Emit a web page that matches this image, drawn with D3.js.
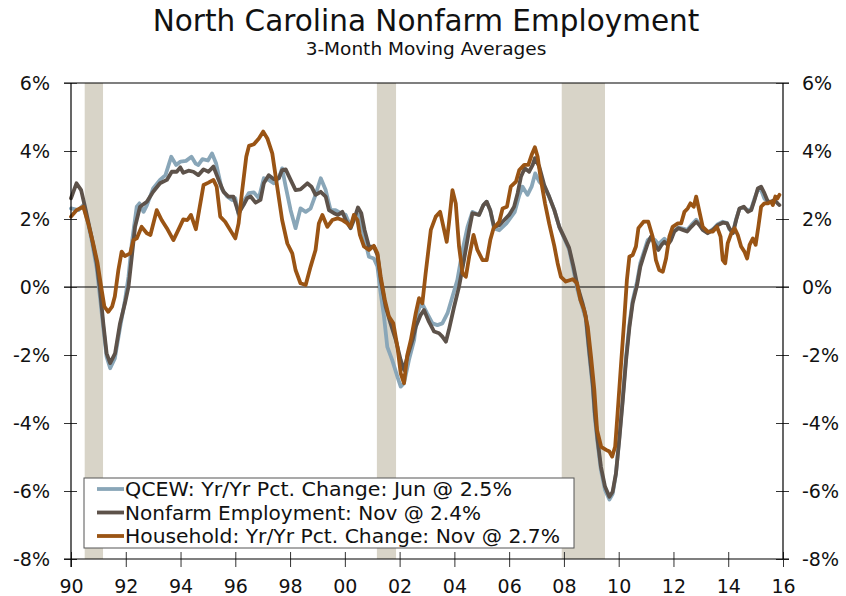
<!DOCTYPE html>
<html>
<head>
<meta charset="utf-8">
<title>North Carolina Nonfarm Employment</title>
<script src="https://cdn.jsdelivr.net/npm/d3@7"></script>
<style>
  body { margin: 0; background: #fff; }
  svg text { font-family: "DejaVu Sans", Verdana, sans-serif; fill: #111; }
</style>
</head>
<body>
<svg id="chart" width="846" height="596"></svg>
<script>
// [decimal year, yr/yr % change]
const qcew = [
  [1990.0, 2.31], [1990.27, 2.26], [1990.45, 2.41], [1990.6, 1.95], [1990.75, 1.4], [1990.94, 0.55],
  [1991.06, -0.3], [1991.18, -1.2], [1991.3, -2.05], [1991.43, -2.39], [1991.6, -2.1], [1991.79, -1.2],
  [1991.97, -0.4], [1992.1, 0.3], [1992.22, 1.28], [1992.4, 2.36], [1992.5, 2.46], [1992.65, 2.21],
  [1992.77, 2.4], [1993.0, 2.9], [1993.25, 3.15], [1993.45, 3.29], [1993.66, 3.83], [1993.84, 3.59],
  [1994.0, 3.69], [1994.2, 3.71], [1994.4, 3.83], [1994.55, 3.63], [1994.65, 3.59], [1994.8, 3.76],
  [1995.0, 3.72], [1995.15, 3.93], [1995.3, 3.63], [1995.5, 2.9], [1995.7, 2.66], [1995.88, 2.56],
  [1996.0, 2.61], [1996.12, 2.12], [1996.3, 2.51], [1996.49, 2.76], [1996.68, 2.78], [1996.86, 2.61],
  [1997.04, 3.2], [1997.22, 3.15], [1997.41, 3.05], [1997.59, 3.2], [1997.71, 3.49], [1997.84, 2.95],
  [1998.02, 2.26], [1998.2, 1.73], [1998.38, 2.31], [1998.57, 2.21], [1998.75, 2.31], [1998.93, 2.71],
  [1999.12, 3.2], [1999.3, 2.85], [1999.48, 2.26], [1999.66, 2.26], [1999.85, 2.17], [2000.03, 2.12],
  [2000.21, 1.77], [2000.35, 2.12], [2000.52, 2.12], [2000.7, 1.48], [2000.88, 0.89], [2001.06, 0.84],
  [2001.19, 0.6], [2001.31, -0.19], [2001.43, -0.87], [2001.55, -1.76], [2001.73, -2.15], [2001.92, -2.64],
  [2002.04, -2.93], [2002.16, -2.83], [2002.34, -2.15], [2002.53, -1.56], [2002.65, -0.77], [2002.8, -0.45],
  [2003.0, -0.77], [2003.2, -1.07], [2003.38, -1.12], [2003.56, -1.07], [2003.75, -0.77], [2003.93, -0.28],
  [2004.11, 0.21], [2004.3, 1.09], [2004.48, 1.77], [2004.66, 2.21], [2004.9, 2.12], [2005.06, 2.41],
  [2005.18, 2.51], [2005.31, 2.26], [2005.45, 1.72], [2005.64, 1.67], [2005.9, 1.87], [2006.2, 2.2],
  [2006.37, 2.7], [2006.49, 2.95], [2006.67, 2.71], [2006.82, 2.95], [2006.95, 3.34], [2007.1, 3.1],
  [2007.28, 2.95], [2007.46, 2.66], [2007.65, 2.26], [2007.83, 1.77], [2008.0, 1.45], [2008.19, 1.1],
  [2008.35, 0.5], [2008.5, -0.1], [2008.68, -0.6], [2008.8, -0.95], [2008.92, -1.95], [2009.05, -2.95],
  [2009.13, -3.85], [2009.23, -4.6], [2009.35, -5.38], [2009.5, -5.97], [2009.66, -6.25], [2009.78, -6.08],
  [2009.9, -5.5], [2010.02, -4.45], [2010.15, -3.25], [2010.27, -2.05], [2010.39, -1.1], [2010.51, -0.4],
  [2010.67, 0.15], [2010.79, 0.7], [2010.94, 1.08], [2011.06, 1.38], [2011.18, 1.45], [2011.33, 1.38],
  [2011.45, 1.25], [2011.57, 1.35], [2011.67, 1.42], [2011.79, 1.3], [2011.91, 1.45], [2012.03, 1.65],
  [2012.18, 1.75], [2012.34, 1.72], [2012.5, 1.68], [2012.65, 1.82], [2012.83, 1.98], [2012.95, 1.85],
  [2013.07, 1.7], [2013.25, 1.6], [2013.44, 1.7], [2013.62, 1.85], [2013.8, 1.92], [2013.96, 1.88],
  [2014.04, 1.7], [2014.17, 1.6], [2014.29, 2.0], [2014.41, 2.3], [2014.57, 2.35], [2014.72, 2.25],
  [2014.84, 2.3], [2014.96, 2.6], [2015.08, 2.85], [2015.2, 2.85], [2015.32, 2.6], [2015.45, 2.5]
];

const nonfarm = [
  [1990.0, 2.61], [1990.2, 3.05], [1990.37, 2.85], [1990.51, 2.36], [1990.75, 1.48], [1990.94, 0.7],
  [1991.06, -0.09], [1991.18, -1.07], [1991.3, -1.95], [1991.43, -2.24], [1991.61, -1.95], [1991.79, -1.07],
  [1991.97, -0.48], [1992.1, 0.01], [1992.22, 0.89], [1992.34, 1.77], [1992.52, 2.36], [1992.77, 2.51],
  [1993.0, 2.8], [1993.25, 3.05], [1993.5, 3.15], [1993.68, 3.39], [1993.86, 3.39], [1993.99, 3.52],
  [1994.1, 3.36], [1994.29, 3.42], [1994.47, 3.39], [1994.65, 3.29], [1994.84, 3.46], [1995.02, 3.39],
  [1995.2, 3.54], [1995.39, 3.15], [1995.57, 2.8], [1995.75, 2.66], [1995.93, 2.66], [1996.12, 2.17],
  [1996.3, 2.41], [1996.43, 2.61], [1996.56, 2.66], [1996.74, 2.48], [1996.92, 2.56], [1997.04, 3.05],
  [1997.22, 3.29], [1997.41, 3.17], [1997.59, 3.2], [1997.71, 3.44], [1997.84, 3.46], [1998.02, 3.15],
  [1998.2, 2.85], [1998.38, 2.87], [1998.63, 3.05], [1998.78, 2.95], [1998.93, 2.71], [1999.12, 2.8],
  [1999.3, 2.66], [1999.42, 2.26], [1999.6, 2.17], [1999.75, 2.12], [1999.91, 2.21], [2000.03, 1.97],
  [2000.21, 1.73], [2000.33, 1.97], [2000.48, 2.34], [2000.6, 2.17], [2000.72, 1.68], [2000.88, 1.19],
  [2001.06, 1.19], [2001.19, 0.94], [2001.31, 0.21], [2001.49, -0.58], [2001.67, -1.07], [2001.86, -1.56],
  [2002.04, -2.15], [2002.16, -2.44], [2002.28, -2.05], [2002.47, -1.56], [2002.59, -1.17], [2002.77, -0.82],
  [2002.89, -0.68], [2003.07, -1.02], [2003.26, -1.31], [2003.44, -1.36], [2003.56, -1.46], [2003.69, -1.61],
  [2003.8, -1.26], [2003.99, -0.58], [2004.17, 0.01], [2004.35, 0.79], [2004.54, 1.68], [2004.66, 2.17],
  [2004.9, 2.12], [2005.06, 2.41], [2005.18, 2.51], [2005.31, 2.26], [2005.45, 1.77], [2005.64, 1.82],
  [2005.82, 1.97], [2006.0, 2.12], [2006.18, 2.36], [2006.31, 2.76], [2006.43, 3.24], [2006.57, 3.49],
  [2006.73, 3.39], [2006.86, 3.59], [2006.94, 3.79], [2007.1, 3.54], [2007.28, 3.0], [2007.46, 2.66],
  [2007.65, 2.26], [2007.83, 1.77], [2008.0, 1.48], [2008.19, 1.15], [2008.35, 0.6], [2008.5, 0.01],
  [2008.68, -0.48], [2008.8, -0.87], [2008.92, -1.85], [2009.05, -2.83], [2009.13, -3.72], [2009.23, -4.5],
  [2009.35, -5.28], [2009.5, -5.87], [2009.66, -6.17], [2009.78, -6.02], [2009.9, -5.48], [2010.02, -4.5],
  [2010.15, -3.32], [2010.27, -2.15], [2010.39, -1.2], [2010.51, -0.48], [2010.67, 0.05], [2010.79, 0.6],
  [2010.94, 0.99], [2011.06, 1.28], [2011.18, 1.48], [2011.33, 1.24], [2011.45, 1.09], [2011.57, 1.24],
  [2011.67, 1.33], [2011.79, 1.24], [2011.91, 1.38], [2012.03, 1.63], [2012.18, 1.73], [2012.34, 1.68],
  [2012.5, 1.63], [2012.65, 1.77], [2012.83, 1.92], [2012.95, 1.82], [2013.07, 1.68], [2013.25, 1.58],
  [2013.44, 1.68], [2013.62, 1.82], [2013.8, 1.89], [2013.96, 1.87], [2014.04, 1.73], [2014.17, 1.58],
  [2014.29, 1.97], [2014.41, 2.31], [2014.57, 2.36], [2014.72, 2.21], [2014.84, 2.26], [2014.96, 2.56],
  [2015.08, 2.9], [2015.2, 2.95], [2015.32, 2.76], [2015.45, 2.51], [2015.57, 2.51], [2015.69, 2.56],
  [2015.8, 2.46], [2015.87, 2.41]
];

const household = [
  [1990.0, 2.07], [1990.2, 2.26], [1990.45, 2.36], [1990.63, 1.87], [1990.81, 1.28], [1990.97, 0.7],
  [1991.12, -0.09], [1991.22, -0.58], [1991.36, -0.73], [1991.5, -0.58], [1991.6, -0.28], [1991.73, 0.5],
  [1991.85, 1.04], [1991.97, 0.91], [1992.16, 0.99], [1992.28, 1.38], [1992.4, 1.43], [1992.58, 1.77],
  [1992.77, 1.58], [1992.9, 1.53], [1993.13, 2.26], [1993.31, 1.97], [1993.5, 1.73], [1993.74, 1.38],
  [1993.92, 1.68], [1994.1, 1.99], [1994.25, 1.97], [1994.38, 2.12], [1994.56, 1.7], [1994.68, 2.26],
  [1994.84, 3.0], [1995.02, 3.07], [1995.2, 3.15], [1995.32, 2.95], [1995.45, 2.07], [1995.63, 1.92],
  [1995.81, 1.68], [1996.0, 1.43], [1996.12, 1.87], [1996.24, 2.76], [1996.4, 3.83], [1996.5, 4.15],
  [1996.68, 4.2], [1996.86, 4.37], [1997.02, 4.57], [1997.17, 4.37], [1997.35, 3.93], [1997.53, 2.95],
  [1997.71, 1.97], [1997.9, 1.28], [1998.08, 0.99], [1998.2, 0.5], [1998.38, 0.11], [1998.57, 0.06],
  [1998.75, 0.6], [1998.93, 1.09], [1999.05, 1.87], [1999.18, 2.12], [1999.36, 1.77], [1999.54, 1.97],
  [1999.73, 2.02], [1999.9, 1.97], [2000.09, 1.87], [2000.21, 1.77], [2000.33, 2.12], [2000.46, 1.97],
  [2000.55, 1.53], [2000.7, 1.19], [2000.88, 1.09], [2001.06, 1.21], [2001.19, 0.99], [2001.31, 0.3],
  [2001.46, -0.38], [2001.61, -0.87], [2001.77, -1.07], [2001.92, -1.76], [2002.04, -2.54], [2002.16, -2.83],
  [2002.28, -2.0], [2002.41, -1.56], [2002.59, -0.77], [2002.71, -0.33], [2002.83, -0.48], [2002.95, 0.4],
  [2003.14, 1.68], [2003.32, 2.07], [2003.48, 2.21], [2003.6, 1.77], [2003.72, 1.33], [2003.8, 1.87],
  [2003.93, 2.85], [2004.05, 2.46], [2004.17, 1.19], [2004.3, 0.4], [2004.42, 0.3], [2004.54, 0.89],
  [2004.7, 1.53], [2004.84, 1.09], [2005.03, 0.79], [2005.18, 0.79], [2005.31, 1.38], [2005.43, 1.73],
  [2005.64, 1.92], [2005.76, 2.31], [2005.92, 2.36], [2006.06, 2.95], [2006.25, 3.1], [2006.37, 3.44],
  [2006.55, 3.59], [2006.7, 3.59], [2006.82, 3.88], [2006.94, 4.11], [2007.04, 3.83], [2007.16, 3.15],
  [2007.31, 2.46], [2007.46, 1.87], [2007.65, 1.2], [2007.77, 0.7], [2007.89, 0.3], [2008.07, 0.16],
  [2008.32, 0.23], [2008.48, 0.11], [2008.6, -0.38], [2008.74, -0.68], [2008.87, -1.17], [2008.99, -2.05],
  [2009.11, -3.03], [2009.21, -4.21], [2009.36, -4.7], [2009.54, -4.79], [2009.66, -4.84], [2009.76, -4.99],
  [2009.87, -4.7], [2009.96, -3.72], [2010.08, -2.34], [2010.2, -1.0], [2010.3, 0.21], [2010.39, 0.89],
  [2010.51, 0.94], [2010.63, 1.19], [2010.72, 1.73], [2010.91, 1.92], [2011.08, 1.92], [2011.24, 1.48],
  [2011.36, 0.79], [2011.48, 0.5], [2011.61, 0.45], [2011.73, 0.84], [2011.85, 1.48], [2011.97, 1.77],
  [2012.16, 1.87], [2012.28, 1.87], [2012.4, 2.21], [2012.52, 2.31], [2012.62, 2.46], [2012.74, 2.36],
  [2012.83, 2.66], [2012.95, 2.21], [2013.07, 1.77], [2013.25, 1.63], [2013.44, 1.63], [2013.59, 1.77],
  [2013.72, 1.48], [2013.8, 0.79], [2013.89, 0.7], [2013.98, 1.28], [2014.11, 1.58], [2014.23, 1.73],
  [2014.35, 1.53], [2014.47, 1.19], [2014.59, 1.04], [2014.69, 0.84], [2014.78, 1.24], [2014.9, 1.43],
  [2015.0, 1.24], [2015.1, 1.77], [2015.2, 2.36], [2015.32, 2.46], [2015.45, 2.46], [2015.57, 2.51],
  [2015.63, 2.41], [2015.72, 2.66], [2015.8, 2.61], [2015.87, 2.71]
];

const recessions = [[1990.5, 1991.17], [2001.17, 2001.87], [2007.92, 2009.5]];
const yTicks = [-8, -6, -4, -2, 0, 2, 4, 6];
const xTicks = d3.range(1990, 2017, 2);
const legendLabels = [
  "QCEW: Yr/Yr Pct. Change: Jun @ 2.5%",
  "Nonfarm Employment: Nov @ 2.4%",
  "Household: Yr/Yr Pct. Change: Nov @ 2.7%"
];

(function () {
  var svg = d3.select("#chart");
  var left = 71, right = 783, top = 83, bottom = 559;

  var x = d3.scaleLinear().domain([1990, 2016]).range([left, right]);
  var y = d3.scaleLinear().domain([-8, 6]).range([bottom, top]);

  var series = [
    { data: qcew, color: "#89a6b8" },
    { data: nonfarm, color: "#5d524a" },
    { data: household, color: "#9a5414" }
  ];

  // title block
  svg.append("text")
    .attr("x", 426).attr("y", 31)
    .attr("text-anchor", "middle")
    .style("font-size", "29.5px")
    .text("North Carolina Nonfarm Employment");
  svg.append("text")
    .attr("x", 426).attr("y", 55)
    .attr("text-anchor", "middle")
    .style("font-size", "18.5px")
    .text("3-Month Moving Averages");

  // recession shading
  svg.append("g")
    .selectAll("rect")
    .data(recessions)
    .enter()
    .append("rect")
    .attr("x", (d) => x(d[0]))
    .attr("width", (d) => x(d[1]) - x(d[0]))
    .attr("y", top)
    .attr("height", bottom - top)
    .attr("fill", "#d8d4c8");

  // frame and zero line
  svg.append("line")
    .attr("x1", left - 7).attr("x2", right + 6)
    .attr("y1", y(0)).attr("y2", y(0))
    .attr("stroke", "#000").attr("stroke-width", 1.2);
  svg.append("line")
    .attr("x1", left - 7).attr("x2", right + 6)
    .attr("y1", top).attr("y2", top)
    .attr("stroke", "#000").attr("stroke-width", 1.2);

  var line = d3.line()
    .x((d) => x(d[0]))
    .y((d) => y(d[1]));

  svg.append("g")
    .selectAll("path")
    .data(series)
    .enter()
    .append("path")
    .attr("d", (d) => line(d.data))
    .attr("fill", "none")
    .attr("stroke", (d) => d.color)
    .attr("stroke-width", 3.8)
    .attr("stroke-linejoin", "round")
    .attr("stroke-linecap", "round");

  // axes; ticks cross the axis line so stretch each tick inward
  var yLeft = svg.append("g")
    .attr("transform", "translate(" + left + ",0)")
    .call(d3.axisLeft(y).tickValues(yTicks).tickSize(7).tickPadding(14)
      .tickFormat((d) => d + "%"));
  yLeft.selectAll(".tick line").attr("x1", 6);

  var yRight = svg.append("g")
    .attr("transform", "translate(" + right + ",0)")
    .call(d3.axisRight(y).tickValues(yTicks).tickSize(6).tickPadding(13)
      .tickFormat((d) => d + "%"));
  yRight.selectAll(".tick line").attr("x1", -7);

  var xAxis = svg.append("g")
    .attr("transform", "translate(0," + bottom + ")")
    .call(d3.axisBottom(x).tickValues(xTicks).tickSize(8)
      .tickFormat((d) => String(d % 100).padStart(2, "0")));
  xAxis.selectAll(".tick line").attr("y1", -7);
  xAxis.selectAll(".tick text").attr("y", 34).attr("dy", null);

  [yLeft, yRight, xAxis].forEach(function (g) {
    g.select(".domain").remove();
    g.selectAll(".tick line").attr("stroke", "#333");
    g.selectAll(".tick text")
      .style("font-family", '"DejaVu Sans", Verdana, sans-serif')
      .style("font-size", "19px")
      .attr("fill", "#111");
  });

  svg.append("line")
    .attr("x1", left).attr("x2", left)
    .attr("y1", top).attr("y2", bottom + 8)
    .attr("stroke", "#000").attr("stroke-width", 1.2);
  svg.append("line")
    .attr("x1", right).attr("x2", right)
    .attr("y1", top).attr("y2", bottom)
    .attr("stroke", "#000").attr("stroke-width", 1.2);
  svg.append("line")
    .attr("x1", left - 7).attr("x2", right + 6)
    .attr("y1", bottom).attr("y2", bottom)
    .attr("stroke", "#000").attr("stroke-width", 1.2);

  // legend
  var legend = svg.append("g").attr("transform", "translate(84,478)");
  legend.append("rect")
    .attr("width", 490).attr("height", 70)
    .attr("fill", "#fff")
    .attr("stroke", "#555").attr("stroke-width", 1);

  var textWidths = [387, 356, 435];
  var rows = legend.selectAll(".row")
    .data(legendLabels)
    .enter()
    .append("g")
    .attr("class", "row")
    .attr("transform", (d, i) => "translate(0," + (11 + i * 23.5) + ")");
  rows.append("line")
    .attr("x1", 13).attr("x2", 40)
    .attr("stroke", (d, i) => series[i].color)
    .attr("stroke-width", 3.8);
  rows.append("text")
    .attr("x", 41).attr("y", 7)
    .attr("textLength", (d, i) => textWidths[i])
    .attr("lengthAdjust", "spacingAndGlyphs")
    .style("font-size", "19px")
    .text((d) => d);
})();
</script>
</body>
</html>
